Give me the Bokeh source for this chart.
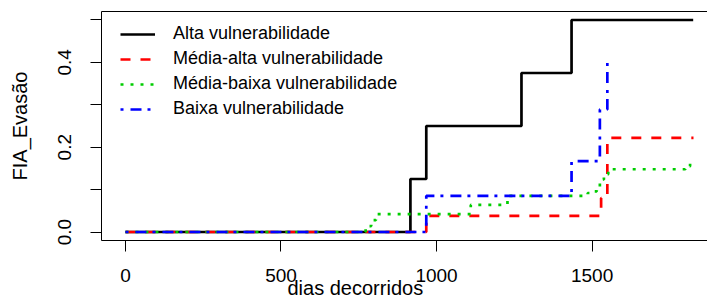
from bokeh.plotting import figure
from bokeh.models import (LinearAxis, FixedTicker, Legend, LegendItem, Title, Range1d,
                          CustomJSTickFormatter)
from bokeh.embed import file_html
from bokeh.resources import INLINE

# ---- data ----
series_names = ["Alta vulnerabilidade", "Média-alta vulnerabilidade",
                "Média-baixa vulnerabilidade", "Baixa vulnerabilidade"]

alta_t = [0, 916, 967, 1273, 1434, 1825]
alta_y = [0, 0.125, 0.25, 0.375, 0.5, 0.5]

media_alta_t = [0, 967, 1529, 1549, 1826]
media_alta_y = [0, 0.038, 0.08, 0.222, 0.222]

media_baixa_t = [0, 772, 790, 805, 1110, 1228, 1486, 1497, 1515, 1525, 1538, 1552, 1800, 1815, 1822]
media_baixa_y = [0, 0.014, 0.028, 0.042, 0.064, 0.085, 0.092, 0.096, 0.104, 0.124, 0.136, 0.148, 0.155, 0.167, 0.167]

baixa_t = [0, 967, 1434, 1525, 1549]
baixa_y = [0, 0.085, 0.167, 0.289, 0.414]

x_ticks = [0, 500, 1000, 1500]
y_ticks = [0, 0.1, 0.2, 0.3, 0.4, 0.5]
y_tick_labels = ["0.0", "", "0.2", "", "0.4", ""]

x_label = "dias decorridos"
y_label = "FIA_Evasão"

FONT = "Liberation Sans"

p = figure(width=707, height=297, output_backend="svg", toolbar_location=None,
           title_location=None,
           x_range=Range1d(-77, 1871), y_range=Range1d(-0.02, 0.52),
           min_border_left=101, min_border_right=0, min_border_top=11, min_border_bottom=57)

p.xgrid.visible = False
p.ygrid.visible = False
p.outline_line_color = None
p.background_fill_color = "white"
p.border_fill_color = "white"

for ax in (p.xaxis[0], p.yaxis[0]):
    ax.axis_line_color = "black"
    ax.axis_line_width = 1
    ax.major_tick_line_color = "black"
    ax.major_tick_in = 0
    ax.major_tick_out = 11
    ax.minor_tick_line_color = None
    ax.major_label_text_font = FONT
    ax.major_label_text_font_size = "19px"
    ax.major_label_text_color = "black"

p.xaxis.ticker = FixedTicker(ticks=x_ticks)
p.xaxis.major_label_standoff = 17

p.yaxis.ticker = FixedTicker(ticks=y_ticks)
p.yaxis.formatter = CustomJSTickFormatter(args=dict(yt=y_ticks, yl=y_tick_labels), code="""
for (let i = 0; i < yt.length; i++) {
  if (Math.abs(yt[i] - tick) < 1e-9) return yl[i];
}
return "";
""")
p.yaxis.major_label_orientation = "vertical"
p.yaxis.major_label_standoff = 19
p.yaxis.axis_label = y_label
p.yaxis.axis_label_text_font = FONT
p.yaxis.axis_label_text_font_size = "20px"
p.yaxis.axis_label_text_font_style = "normal"
p.yaxis.axis_label_text_color = "black"
p.yaxis.axis_label_standoff = 25

top = LinearAxis(ticker=FixedTicker(ticks=[]), major_tick_out=0, major_tick_in=0,
                 minor_tick_out=0, minor_tick_in=0, major_label_standoff=0,
                 axis_line_color="black")
p.add_layout(top, "above")

r1 = p.step(alta_t, alta_y, mode="after", line_color="black", line_width=2.7)
r2 = p.step(media_alta_t, media_alta_y, mode="after", line_color="#FF0000", line_width=2.7,
            line_dash="10 10")
r3 = p.step(media_baixa_t, media_baixa_y, mode="after", line_color="#00CD00", line_width=2.7,
            line_dash="3 7")
r4 = p.step(baixa_t, baixa_y, mode="after", line_color="#0000FF", line_width=2.7,
            line_dash="3 7 11 6")

legend = Legend(items=[LegendItem(label=n, renderers=[r]) for n, r in zip(series_names, [r1, r2, r3, r4])],
                location=(19, 121), border_line_color=None, background_fill_alpha=0,
                label_text_font=FONT, label_text_font_size="18px", label_text_color="black",
                glyph_width=35, glyph_height=20, label_height=20, label_standoff=18,
                spacing=4, padding=0, margin=0)
p.add_layout(legend)

xt = Title(text=x_label, align="left", offset=186, standoff=-16, vertical_align="top",
           text_font=FONT, text_font_size="20px", text_font_style="normal", text_color="black")
p.add_layout(xt, "below")

open("out.html", "w").write(file_html(p, INLINE))
